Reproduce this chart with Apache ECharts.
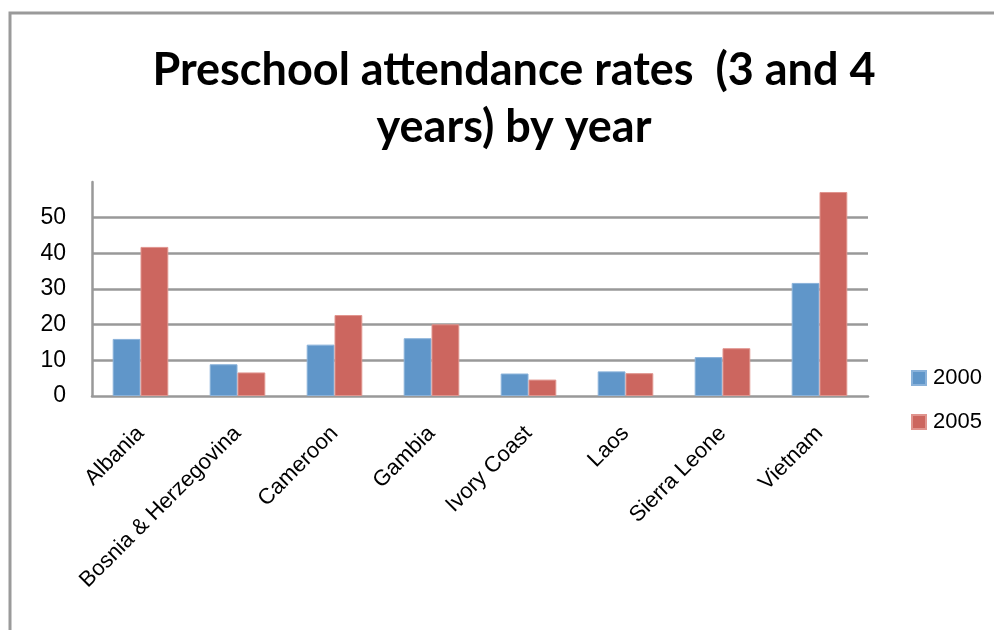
<!DOCTYPE html>
<html>
<head>
<meta charset="utf-8">
<script src="https://cdn.jsdelivr.net/npm/echarts@6/dist/echarts.min.js"></script>
<style>
  html, body { margin: 0; padding: 0; background: #fff; }
  #chart { width: 994px; height: 630px; }
</style>
</head>
<body>
<div id="chart"></div>
<script>
// Preschool attendance (%) for children aged 3 and 4
const countries = ['Albania', 'Bosnia & Herzegovina', 'Cameroon', 'Gambia', 'Ivory Coast', 'Laos', 'Sierra Leone', 'Vietnam'];
const rates2000 = [16.0, 8.9, 14.4, 16.2, 6.3, 6.9, 10.9, 31.7];
const rates2005 = [41.8, 6.6, 22.7, 20.1, 4.6, 6.4, 13.4, 57.2];
const yearNames = ['2000', '2005'];
const yTicks = [0, 10, 20, 30, 40, 50, 60];

const chart = echarts.init(document.getElementById('chart'), null, { renderer: 'canvas' });
const labelFont = '"Liberation Sans", Arial, sans-serif';

chart.setOption({
  animation: false,
  backgroundColor: '#ffffff',
  title: {
    text: 'Preschool attendance rates  (3 and 4\nyears) by year',
    left: 509,
    top: 37,
    textAlign: 'center',
    textStyle: {
      fontFamily: 'Lato, sans-serif',
      fontWeight: 'bold',
      fontSize: 45,
      lineHeight: 57,
      color: '#000'
    }
  },
  graphic: [{
    type: 'polyline',
    shape: { points: [[10, 640], [10, 13], [1000, 13]] },
    style: { stroke: '#9a9a9a', lineWidth: 3, fill: null },
    silent: true
  }],
  legend: {
    orient: 'vertical',
    left: 906,
    top: 362,
    itemWidth: 14,
    itemHeight: 14,
    itemGap: 22,
    icon: 'rect',
    data: yearNames,
    textStyle: { fontFamily: labelFont, fontSize: 22, color: '#000', padding: [0, 0, 0, 2] }
  },
  grid: { left: 92, right: 126, top: 182, bottom: 234 },
  xAxis: {
    type: 'category',
    data: countries,
    axisLine: { show: true, lineStyle: { color: '#999', width: 2.5 } },
    axisTick: { show: false },
    axisLabel: {
      rotate: 45,
      interval: 0,
      margin: 34,
      fontFamily: labelFont,
      fontSize: 22,
      color: '#000'
    }
  },
  yAxis: {
    type: 'value',
    min: yTicks[0],
    max: yTicks[yTicks.length - 1],
    interval: 10,
    axisLine: { show: true, lineStyle: { color: '#999', width: 2.5 } },
    axisTick: { show: false },
    axisLabel: {
      showMaxLabel: false,
      margin: 26,
      fontFamily: labelFont,
      fontSize: 23,
      color: '#000'
    },
    splitLine: { show: true, showMaxLine: false, showMinLine: false, lineStyle: { color: '#999', width: 2.5 } }
  },
  series: [
    {
      name: yearNames[0],
      type: 'bar',
      data: rates2000,
      barWidth: 27.8,
      barGap: '0%',
      itemStyle: { color: '#6096c9', borderColor: '#8ab2da', borderWidth: 1 }
    },
    {
      name: yearNames[1],
      type: 'bar',
      data: rates2005,
      barWidth: 27.8,
      barGap: '0%',
      itemStyle: { color: '#cc665f', borderColor: '#e0948e', borderWidth: 1 }
    }
  ]
});
</script>
</body>
</html>
